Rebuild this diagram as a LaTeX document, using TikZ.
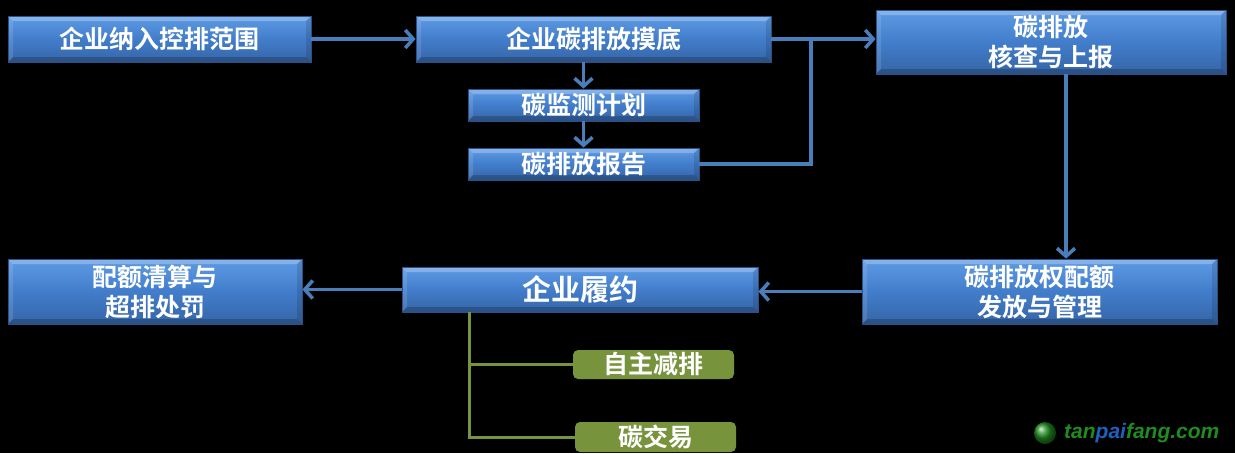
\documentclass[tikz,border=0pt]{standalone}
\usepackage{fontspec}
\usepackage{tikz}
\usetikzlibrary{arrows.meta}
\newfontfamily\cjkb{Noto Sans CJK SC Bold}
\newfontfamily\wmfont{Liberation Sans}
\definecolor{bluetop}{HTML}{5E9BE4}
\definecolor{bluemid}{HTML}{427DCB}
\definecolor{bluebot}{HTML}{3565A6}
\definecolor{blueedge}{HTML}{2A5286}
\definecolor{bluelink}{HTML}{4A7EBB}
\definecolor{olive}{HTML}{77933C}
\definecolor{wmgreen}{HTML}{1E8C1E}
\definecolor{wmblue}{HTML}{2060C0}

\begin{document}
\begin{tikzpicture}[x=1pt, y=-1pt,
    box/.style={draw=blueedge, line width=0.8pt, top color=bluetop, bottom color=bluebot, middle color=bluemid,
        text=white, font=\cjkb\fontsize{25}{30}\selectfont, align=center, inner sep=0pt,
        path picture={
            \fill[white, opacity=.25] (path picture bounding box.north west) -- (path picture bounding box.north east)
                -- ([xshift=-5pt, yshift=-5pt]path picture bounding box.north east) -- ([xshift=5pt, yshift=-5pt]path picture bounding box.north west) -- cycle;
            \fill[white, opacity=.12] (path picture bounding box.north west) -- ([xshift=5pt, yshift=-5pt]path picture bounding box.north west)
                -- ([xshift=5pt, yshift=5pt]path picture bounding box.south west) -- (path picture bounding box.south west) -- cycle;
            \fill[black, opacity=.2] (path picture bounding box.south west) -- (path picture bounding box.south east)
                -- ([xshift=-5pt, yshift=5pt]path picture bounding box.south east) -- ([xshift=5pt, yshift=5pt]path picture bounding box.south west) -- cycle;
            \fill[black, opacity=.12] (path picture bounding box.north east) -- ([xshift=-5pt, yshift=-5pt]path picture bounding box.north east)
                -- ([xshift=-5pt, yshift=5pt]path picture bounding box.south east) -- (path picture bounding box.south east) -- cycle;
        }},
    gbox/.style={fill=olive, rounded corners=5pt, text=white, font=\cjkb\fontsize{25}{30}\selectfont, inner sep=0pt},
    link/.style={draw=bluelink, line width=3.5pt, -{Straight Barb[length=8pt, width=18pt]}},
    glink/.style={draw=olive, line width=3pt}]
        \fill[black] (0,0) rectangle (1235,453);
        \useasboundingbox (0,0) rectangle (1235,453);
        \node[box, minimum width=303pt, minimum height=46pt] (entry) at (159.5,39) {企业纳入控排范围};
        \node[box, minimum width=355pt, minimum height=46pt] (survey) at (593.5,39) {企业碳排放摸底};
        \node[box, minimum width=231pt, minimum height=32pt] (plan) at (583.5,105) {碳监测计划};
        \node[box, minimum width=231pt, minimum height=32pt] (report) at (583.5,164) {碳排放报告};
        \node[box, minimum width=350pt, minimum height=64pt] (verify) at (1051,42) {碳排放\\核查与上报};
        \node[box, minimum width=355pt, minimum height=65pt] (allot) at (1039.5,291.5) {碳排放权配额\\发放与管理};
        \node[box, minimum width=356pt, minimum height=45pt, font=\cjkb\fontsize{29}{34}\selectfont] (comply) at (580,289.5) {企业履约};
        \node[box, minimum width=294pt, minimum height=65pt] (settle) at (155,291.5) {配额清算与\\超排处罚};
        \node[gbox, minimum width=161pt, minimum height=29pt] (reduce) at (653.5,364.5) {自主减排};
        \node[gbox, minimum width=161pt, minimum height=30pt] (trade) at (655.5,437) {碳交易};
        \coordinate (join) at (811,39);
        \coordinate (tap) at ([xshift=68pt]comply.south west);
        \draw[link] (entry) -- (survey);
        \draw[link] (survey.east) -- (survey.east -| verify.west);
        \draw[link] (plan.north |- survey.south) -- (plan.north);
        \draw[link] (plan) -- (report);
        \draw[draw=bluelink, line width=3.5pt] (report.east) -| (join);
        \draw[link] ([xshift=15pt]verify.south) -- ([xshift=15pt]verify.south |- allot.north);
        \draw[link] (allot.west) -- (allot.west -| comply.east);
        \draw[link] (comply.west) -- (comply.west -| settle.east);
        \draw[glink] (tap) |- (reduce.west);
        \draw[glink] (tap) |- (trade.west);
        % watermark
        \shade[ball color=wmgreen] (1045,433) circle (11);
        \node[font=\wmfont\bfseries\itshape\fontsize{21}{24}\selectfont, anchor=west, inner sep=0pt] (mark) at (1064,433)
            {\textcolor{wmgreen}{tan}\textcolor{wmblue}{pai}\textcolor{wmgreen}{fang.com}};
    \end{tikzpicture}
\end{document}
